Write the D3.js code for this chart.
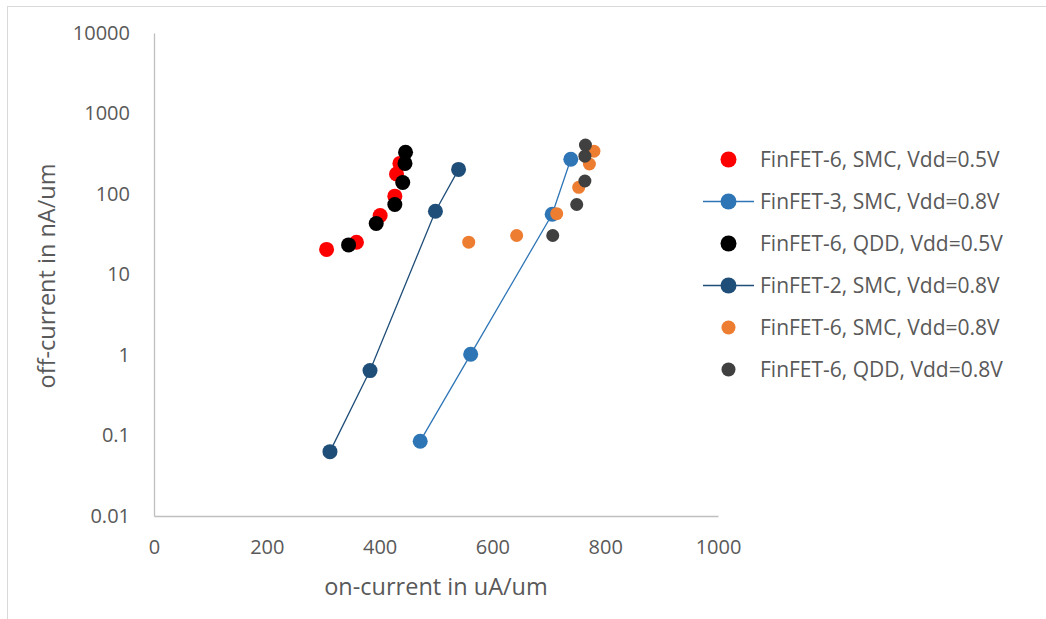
<!DOCTYPE html>
<html><head><meta charset="utf-8">
<script src="https://cdn.jsdelivr.net/npm/d3@7"></script>
<style>
body{margin:0;background:#fff;}
text{font-family:"Open Sans",sans-serif;fill:#595959;}
</style></head>
<body><svg id="c" width="1046" height="619"></svg>
<script>
const seriesNames = ["FinFET-6, SMC, Vdd=0.5V","FinFET-3, SMC, Vdd=0.8V","FinFET-6, QDD, Vdd=0.5V","FinFET-2, SMC, Vdd=0.8V","FinFET-6, SMC, Vdd=0.8V","FinFET-6, QDD, Vdd=0.8V"];
const seriesColors = ["#FF0000","#2E75B6","#000000","#1F4E79","#ED7D31","#404040"];
const seriesHasLine = [false,true,false,true,false,false];
const seriesRadius = [7.5,7.5,7.5,7.5,6.5,6.5];

const red05X = [306,359,401,427,430,436];
const red05Y = [20.5,25.2,54,94,177,240];
const fin3X = [472,561.5,706,739];
const fin3Y = [0.085,1.02,56,270];
const qdd05X = [345,394,427,441,445,446];
const qdd05Y = [23.3,43,74,139,240,330];
const fin2X = [312,383,499,540];
const fin2Y = [0.063,0.64,61,202];
const smc08X = [558,643,714,753,772,780];
const smc08Y = [25.2,30.5,57,121,236,340];
const qdd08X = [707,749.5,764,764,765];
const qdd08Y = [30.5,74,145,295,405];

const xTicks = [0,200,400,600,800,1000];
const yTicks = [0.01,0.1,1,10,100,1000,10000];
const xTitle = "on-current in uA/um";
const yTitle = "off-current in nA/um";

const seriesX = [red05X,fin3X,qdd05X,fin2X,smc08X,qdd08X];
const seriesY = [red05Y,fin3Y,qdd05Y,fin2Y,smc08Y,qdd08Y];

const svg = d3.select("#c");
// outer frame
svg.append("rect").attr("x",7.5).attr("y",6.5).attr("width",1100).attr("height",700)
  .attr("fill","none").attr("stroke","#d9d9d9").attr("stroke-width",1);

const x = d3.scaleLinear().domain([0,1000]).range([154,718]);
const y = d3.scaleLog().domain([0.01,10000]).range([516,33]);

// axes
const xAxis = svg.append("g").attr("transform","translate(0,516)")
  .call(d3.axisBottom(x).tickValues(xTicks).tickSize(0).tickPadding(24).tickFormat(d3.format("d")));
const yAxis = svg.append("g").attr("transform","translate(154,0)")
  .call(d3.axisLeft(y).tickValues(yTicks).tickSize(0).tickPadding(24).tickFormat(d=>String(d)));
[xAxis,yAxis].forEach(a=>{
  a.select(".domain").attr("stroke","#bfbfbf").attr("stroke-width",1.3);
  a.selectAll("text").attr("font-family","Open Sans").attr("font-size",20).attr("fill","#595959");
});

svg.append("text").attr("x",436).attr("y",595).attr("text-anchor","middle")
  .attr("font-size",23.5).text(xTitle);
svg.append("text").attr("transform","translate(55,276) rotate(-90)").attr("text-anchor","middle")
  .attr("font-size",23.5).text(yTitle);

// series
const plot = svg.append("g");
seriesNames.forEach((n,i)=>{
  const pts = seriesX[i].map((v,j)=>[v,seriesY[i][j]]);
  if(seriesHasLine[i]){
    plot.append("path").datum(pts).attr("fill","none").attr("stroke",seriesColors[i]).attr("stroke-width",1.3)
      .attr("d",d3.line().x(d=>x(d[0])).y(d=>y(d[1])));
  }
  plot.selectAll(null).data(pts).enter().append("circle")
    .attr("cx",d=>x(d[0])).attr("cy",d=>y(d[1])).attr("r",seriesRadius[i]).attr("fill",seriesColors[i]);
});

// legend
const lg = svg.append("g");
seriesNames.forEach((n,i)=>{
  const cy = 159.5 + i*42;
  if(seriesHasLine[i]){
    lg.append("line").attr("x1",703).attr("x2",754).attr("y1",cy).attr("y2",cy)
      .attr("stroke",seriesColors[i]).attr("stroke-width",1.3);
  }
  lg.append("circle").attr("cx",728.5).attr("cy",cy).attr("r",seriesRadius[i]+0.5).attr("fill",seriesColors[i]);
  lg.append("text").attr("x",760).attr("y",cy).attr("dy","0.35em").attr("font-size",21).text(n);
});
</script></body></html>
